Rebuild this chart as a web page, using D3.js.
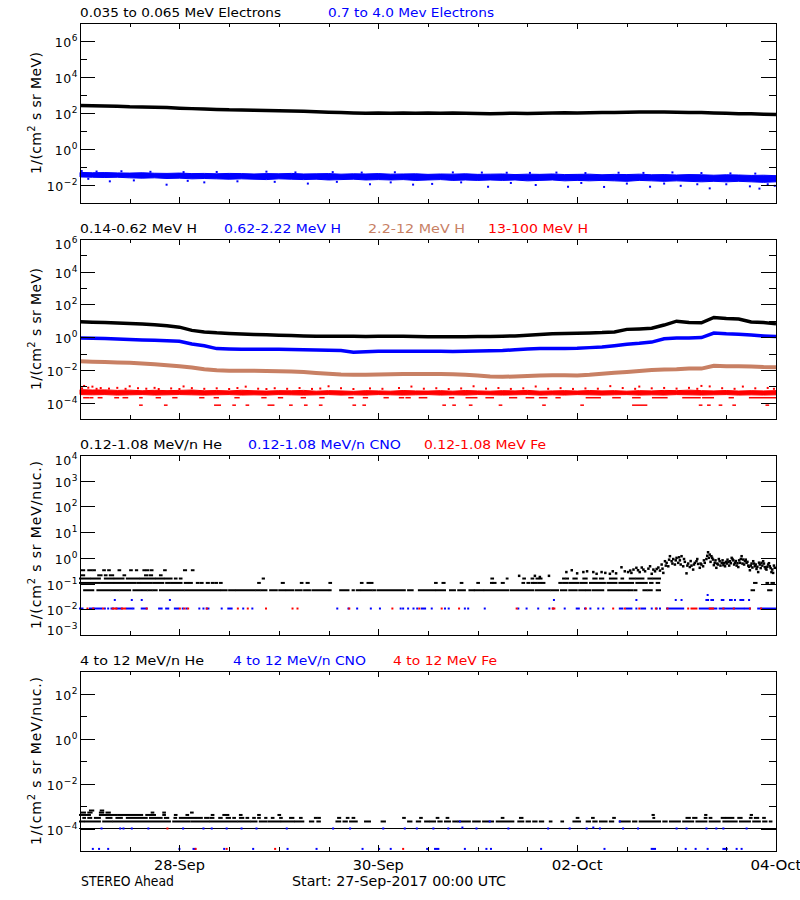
<!DOCTYPE html>
<html><head><meta charset="utf-8">
<script src="https://cdn.jsdelivr.net/npm/d3@7"></script>
<style>body{margin:0;background:#fff}svg{display:block}text{font-family:"DejaVu Sans",sans-serif}</style>
</head><body><svg id="c" width="800" height="900"></svg>
<script>
// ---------------- DATA ----------------
// time grid: hours since 27-Sep-2017 00:00 UTC, 3-hour samples
const sampleHours = d3.range(0, 169, 3);
const xTickHours = [12,24,36,48,60,72,84,96,108,120,132,144,156];
const xLabelHours = [24,72,120,168];
const xLabels = ["28-Sep","30-Sep","02-Oct","04-Oct"];

const titles1 = ["0.035 to 0.065 MeV Electrons","0.7 to 4.0 Mev Electrons"];
const titles2 = ["0.14-0.62 MeV H","0.62-2.22 MeV H","2.2-12 MeV H","13-100 MeV H"];
const titles3 = ["0.12-1.08 MeV/n He","0.12-1.08 MeV/n CNO","0.12-1.08 MeV Fe"];
const titles4 = ["4 to 12 MeV/n He","4 to 12 MeV/n CNO","4 to 12 MeV Fe"];

// Panel 1: electrons
const eLow = [257,250,245,235,220,215,210,200,185,175,165,158,150,148,142,138,135,130,125,118,110,105,100,98,100,98,100,97,100,98,100,97,95,92,95,97,95,97,100,102,100,103,105,107,110,112,115,112,110,107,105,100,97,92,90,85,82];
const eHighUpper = [0.05,0.048,0.049,0.047,0.046,0.048,0.045,0.044,0.046,0.043,0.044,0.042,0.044,0.043,0.041,0.043,0.042,0.044,0.041,0.042,0.043,0.04,0.042,0.041,0.043,0.04,0.041,0.042,0.039,0.041,0.04,0.042,0.039,0.04,0.041,0.038,0.04,0.039,0.041,0.038,0.039,0.04,0.037,0.039,0.038,0.04,0.037,0.038,0.036,0.038,0.037,0.035,0.037,0.036,0.034,0.035,0.033];
const eHighLower = [0.028,0.027,0.026,0.027,0.025,0.024,0.025,0.023,0.024,0.022,0.023,0.022,0.021,0.022,0.021,0.02,0.022,0.021,0.02,0.021,0.019,0.02,0.021,0.019,0.02,0.019,0.02,0.018,0.019,0.02,0.018,0.019,0.018,0.019,0.018,0.019,0.017,0.018,0.019,0.017,0.018,0.017,0.018,0.017,0.016,0.018,0.017,0.016,0.017,0.016,0.015,0.016,0.015,0.016,0.015,0.014,0.015];
const eHighOutliers = [[0.4,0.06],[4,0.056],[10,0.058],[17,0.054],[25,0.052],[33,0.053],[45,0.055],[52,0.05],[61,0.052],[68,0.049],[76,0.051],[90,0.05],[97,0.049],[103,0.048],[108.6,0.047],[115,0.049],[122,0.046],[130,0.048],[136,0.047],[143,0.05],[150,0.046],[157,0.044],[163,0.043],[2,0.022],[7.2,0.016],[13,0.018],[20.9,0.0104],[26,0.017],[30,0.014],[38,0.016],[47,0.015],[55,0.012],[62,0.015],[70,0.011],[75,0.014],[80.4,0.0105],[85,0.0115],[92,0.014],[98.5,0.008],[104,0.013],[110,0.01],[117.8,0.008],[121,0.013],[126.5,0.0078],[132,0.012],[137.6,0.008],[141,0.012],[145,0.009],[149,0.011],[152,0.0065],[156,0.011],[161.7,0.0084],[164,0.0063],[166,0.011],[167.7,0.009]];

// Panel 2: protons
const h1 = [8.7,8.3,7.8,7.3,6.9,6.4,5.8,5.0,4.1,2.6,2.1,1.85,1.7,1.55,1.45,1.4,1.3,1.25,1.2,1.15,1.15,1.15,1.15,1.1,1.15,1.15,1.15,1.1,1.05,1.05,1.05,1.08,1.1,1.12,1.15,1.2,1.3,1.45,1.6,1.7,1.75,1.8,1.9,2.1,3.0,3.2,3.5,5.5,9.5,7.8,7.6,16,14,13,8.5,7.8,6.5];
const h2 = [0.9,0.87,0.82,0.77,0.72,0.68,0.64,0.6,0.57,0.38,0.3,0.2,0.19,0.185,0.18,0.18,0.18,0.175,0.17,0.165,0.16,0.155,0.12,0.13,0.14,0.14,0.14,0.14,0.14,0.14,0.135,0.14,0.145,0.15,0.155,0.17,0.19,0.2,0.2,0.2,0.21,0.23,0.25,0.3,0.37,0.42,0.5,0.8,0.9,0.88,0.95,1.8,1.6,1.5,1.35,1.2,1.1];
const h3 = [0.034,0.032,0.03,0.028,0.027,0.025,0.022,0.019,0.017,0.014,0.011,0.0095,0.009,0.009,0.0088,0.0085,0.0084,0.008,0.0075,0.0065,0.0058,0.0052,0.005,0.005,0.0052,0.0055,0.0056,0.0057,0.0057,0.0056,0.0055,0.005,0.0045,0.004,0.0038,0.004,0.0043,0.0046,0.0047,0.0047,0.0046,0.005,0.0058,0.0066,0.0075,0.0085,0.01,0.0106,0.011,0.012,0.012,0.018,0.017,0.017,0.016,0.015,0.0147];
const h4Upper = [6.2e-4,5.9e-4,6e-4,5.6e-4,5.8e-4,5.3e-4,5.7e-4,5.4e-4,5.6e-4,5.9e-4,5.3e-4,5.5e-4,5.2e-4,5.7e-4,5.3e-4,5.1e-4,5.4e-4,5.3e-4,5.6e-4,5e-4,5.4e-4,5.2e-4,4.9e-4,5.4e-4,5.2e-4,5e-4,5.5e-4,5.2e-4,5.1e-4,5.4e-4,5e-4,5.5e-4,5.2e-4,5e-4,5.4e-4,5.2e-4,5.6e-4,5e-4,5.2e-4,5.4e-4,5.1e-4,5.5e-4,5.2e-4,5.4e-4,5e-4,5.4e-4,5.2e-4,5.6e-4,5.4e-4,5.8e-4,5.4e-4,5.2e-4,5.5e-4,5.1e-4,5.4e-4,5.2e-4,5.4e-4];
const h4Lower = [3.1e-4,3e-4,3.1e-4,2.9e-4,3e-4,3.1e-4,2.9e-4,3e-4,3.1e-4,3e-4,2.9e-4,3e-4,3.1e-4,2.9e-4,3e-4,2.9e-4,3.1e-4,3e-4,2.9e-4,3e-4,3.1e-4,2.9e-4,3e-4,2.9e-4,3.1e-4,3e-4,2.9e-4,3e-4,3.1e-4,2.9e-4,3e-4,2.9e-4,3.1e-4,3e-4,2.9e-4,3e-4,3.1e-4,2.9e-4,3e-4,2.9e-4,3.1e-4,3e-4,2.9e-4,3e-4,3.1e-4,2.9e-4,3e-4,2.9e-4,3.1e-4,3e-4,2.9e-4,3e-4,3.1e-4,2.9e-4,3e-4,2.9e-4,3e-4];
const h4High = [[1,1.05e-3],[3,9.5e-4],[12,1e-3],[25,9.8e-4],[40,9.5e-4],[60,1e-3],[80,9.6e-4],[95,1e-3],[110,9.7e-4],[128,1.02e-3],[135,9.6e-4],[150,1.05e-3],[152,9.8e-4],[160,9.6e-4],
 [0.5,7.5e-4],[2,8.2e-4],[4,7e-4],[5,7.8e-4],[7,7.2e-4],[9,8e-4],[11,7e-4],[14,7.6e-4],[16,7.1e-4],[18,8e-4],[19,6.8e-4],[22,7.4e-4],[24,6.8e-4],[27,7.7e-4],[30,7e-4],[33,7.5e-4],[36,6.8e-4],[38,7.8e-4],[43,7.1e-4],[45,6.8e-4],[47,7.6e-4],[50,7e-4],[53,7.8e-4],[56,6.9e-4],[58,7.3e-4],[63,7.6e-4],[66,6.8e-4],[70,7.4e-4],[73,7e-4],[77,7.8e-4],[83,7.1e-4],[86,7.6e-4],[89,6.8e-4],[92,7.4e-4],[98,7.2e-4],[101,7.8e-4],[104,6.9e-4],[107,7.5e-4],[113,7e-4],[116,7.7e-4],[119,6.9e-4],[122,7.4e-4],[125,7.1e-4],[131,7.8e-4],[134,7e-4],[138,7.5e-4],[141,7.9e-4],[144,7.2e-4],[147,8e-4],[149,7e-4],[155,7.6e-4],[158,7e-4],[163,7.5e-4],[166,7.9e-4],[167.5,7e-4]];
const h4Levels = [2e-4, 7e-5];
const h4Runs = [
 [[1,2],[2.5,3],[4.5,5.2],[8.5,9.2],[10.5,11.4],[14.5,14.9],[18.5,19.3],[22.5,23.3],[29,29.8],[32.5,33.3],[37.5,38.3],[44,44.8],[48,48.8],[53.5,54.3],[58,58.8],[65,65.8],[68.5,69.3],[73.5,74.3],[77.2,78],[78.8,79.6],[82,83.6],[89.3,90.1],[93.3,95.7],[98.1,99.7],[103.8,105.3],[107.8,109.4],[111,112.6],[115,115.8],[122.3,125.5],[128.7,130.3],[133.5,135.1],[138.3,141.6],[145.6,149.6],[150.4,152.8],[156.8,157.6],[161.7,168]],
 [[14.5,14.9],[20.5,20.9],[32.6,33.8],[37,37.4],[40.2,40.6],[45.5,46.7],[50.7,51.1],[54.3,54.7],[57.9,58.3],[66,66.4],[68.4,68.8],[87.7,88.1],[90.1,90.5],[94.1,94.5],[101.3,101.7],[111.8,112.2],[121,121.4],[133.5,136.7],[149.6,150],[151.6,152],[154.4,154.8],[157.7,158.1],[165.7,166.1]]
];

// Panel 3: 0.12-1.08 MeV/n ions
const he3Levels = [0.055, 0.106, 0.157, 0.21, 0.33];
const he3Runs = [
 [[1,3.2],[4.2,7.2],[7.6,9.3],[9.7,12.1],[12.9,16.1],[16.5,17.3],[17.7,18.5],[19.3,25],[25.4,33.8],[34.2,35.4],[36,37.4],[37.8,42.2],[42.6,43.4],[43.8,45],[45.9,47.5],[48.1,49.5],[49.9,51.5],[52.1,53.5],[54.1,55.5],[56.1,59.9],[60.3,60.5],[62.8,64.8],[65.8,66.1],[66.8,67.6],[68,70.4],[70.8,71.2],[71.8,78.4],[79.2,80.3],[81.8,85.7],[86.1,88.1],[89.3,90.5],[91.3,92.9],[94,95],[95.3,97.3],[97.7,103.4],[104,109.4],[110,113.4],[113.8,115.4],[116.1,117.4],[118.1,119.9],[120.5,121.9],[122.3,123.1],[123.7,126.3],[127.5,132.3],[132.7,133.4],[133.9,134.3],[136,136.8],[137.2,138],[139.2,140],[162.1,162.7],[166.1,166.9]],
 [[0,4.8],[5.2,8],[8.4,13.3],[13.8,14.5],[14.9,17.3],[17.7,20.1],[20.8,21.7],[22.1,24.5],[25.3,26.1],[26.5,27],[28.2,28.6],[29.1,29.6],[30.6,31.1],[31.8,32.3],[32.8,33.1],[33.8,34.2],[43,43.4],[48.7,49.2],[53.3,53.7],[54.7,55.2],[60.2,60.6],[67.8,68.2],[69.4,69.8],[70.2,70.6],[85.7,86.1],[87.5,88],[91.9,92.3],[95.9,96.3],[99.2,99.6],[99.7,100.3],[101.8,102.3],[106.8,107.2],[108,108.4],[109,109.4],[109.6,110.2],[110.6,111.3],[111.7,112.1],[115.7,116.1],[116.6,117.6],[118.1,120.3],[120.8,122.3],[123.1,126.7],[127.3,129.5],[130.2,133.5],[134.3,136],[136.4,136.8],[137.6,138.2],[139.2,139.8],[162.7,163.3],[165.7,166.1],[166.9,167.5]],
 [[0,2.4],[2.8,4.8],[6,8],[8.4,10.5],[11.3,14.1],[14.5,18.1],[18.5,20.1],[20.5,22.1],[22.9,23.3],[24.1,24.5],[44.1,44.4],[99.3,99.7],[103,103.2],[107,107.4],[109,109.4],[110.2,110.6],[111,111.4],[116.6,117],[117.4,117.8],[119.1,119.9],[121.5,122.3],[123.9,124.7],[125.5,126.3],[127.9,129.5],[130.7,131.1],[132.7,133.9],[134.3,136],[137.2,138],[138.4,140]],
 [[0.4,1],[4.4,5.2],[6,6.4],[7.2,8],[10.5,10.9],[15.7,16.3],[16.9,17.4],[19.3,19.7]],
 [[0.4,1],[2,2.8],[3.2,3.6],[5.6,6],[6.8,7.2],[9.3,9.7],[12.1,12.5],[13.5,13.8],[15.3,15.7],[16.1,16.5],[17.1,17.5],[20.3,20.7],[25.1,25.6],[27,27.4]]
];
const he3Cloud = [[118.7,0.33],[121.5,0.28],[123.9,0.28],[125.9,0.28],[127.9,0.24],[130.7,0.43],[132.3,0.28],[133.1,0.26],[134.3,0.41],[134.7,0.33],[135.1,0.28],[136,0.35],[137.6,0.47],[138,0.24],[138.4,0.35],[138.8,0.3],[139.2,0.37],[140,0.32],[140.4,0.55],[140.8,0.26],[141.2,0.74],[141.6,0.64],[142,0.47],[142.4,1.16],[142.8,0.74],[143.2,0.9],[143.6,0.55],[144,1.0],[144.4,0.64],[144.8,0.8],[145.2,1.16],[145.6,0.47],[146,0.7],[146.4,0.25],[146.8,0.6],[147.2,0.44],[147.6,0.5],[148,0.35],[148.4,0.64],[148.8,0.74],[149.2,0.58],[149.6,0.41],[150,0.55],[150.4,0.47],[150.8,0.64],[151.2,0.9],[151.6,1.65],[152,1.34],[152.4,1.16],[152.8,0.86],[153.2,0.64],[153.6,0.41],[154,0.55],[154.4,0.74],[154.9,0.64],[155.3,0.52],[155.7,0.47],[156.1,0.6],[156.5,0.68],[156.9,0.74],[157.3,1.0],[157.7,0.8],[158.1,0.64],[158.5,0.5],[158.9,0.44],[159.3,0.64],[159.7,1.16],[160.1,0.86],[160.5,0.74],[160.9,0.64],[161.3,0.5],[161.7,0.33],[162.1,0.6],[162.5,0.74],[162.9,0.47],[163.3,0.37],[163.7,0.28],[164.1,0.55],[164.5,0.64],[164.9,0.74],[165.3,0.44],[165.7,0.35],[166.1,0.55],[166.5,0.47],[166.9,0.28],[167.3,0.26],[167.7,0.41],
 [141.4,0.5],[142.2,0.85],[143,0.6],[143.8,0.8],[144.6,1.05],[145,0.55],[145.8,0.9],[146.6,0.5],[147.4,0.75],[148.2,0.55],[149,0.9],[149.8,0.6],[150.6,0.8],[151.4,1.2],[151.8,1.0],[152.2,0.7],[152.6,1.0],[153,0.52],[153.4,0.8],[153.8,0.6],[154.2,0.9],[154.6,0.5],[155.1,0.8],[155.5,0.62],[155.9,0.7],[156.3,0.85],[156.7,0.5],[157.1,0.62],[157.5,0.9],[157.9,0.55],[158.3,0.75],[158.7,0.62],[159.1,0.8],[159.5,0.9],[159.9,0.6],[160.3,0.55],[160.7,0.85],[161.1,0.7],[161.5,0.45],[161.9,0.5],[162.3,0.42],[162.7,0.6],[163.1,0.55],[163.5,0.45],[163.9,0.65],[164.3,0.4],[164.7,0.5],[165.1,0.6],[165.5,0.38],[165.9,0.45],[166.3,0.62],[166.7,0.4],[167.1,0.35],[167.5,0.5],[139.6,0.42],[140.6,0.38],[137.2,0.38],[136.4,0.3],[135.6,0.42],[133.6,0.35],[132.8,0.32],[131.5,0.3],[129.4,0.25],[128.6,0.3],[126.8,0.26],[124.7,0.24],[122.4,0.3],[120,0.25],[117.4,0.28],[113.2,0.2],[111,0.18],[109.8,0.2],[106,0.2]];
const cno3Levels = [0.0107, 0.023, 0.036];
const cno3Runs = [
 [[0,0.6],[2.4,3.2],[3.6,5.2],[6,6],[6.8,6.8],[7.6,8],[8.8,10.1],[11.3,12.5],[12.9,12.9],[14.9,16.1],[19.1,19.7],[20.8,21.3],[22.9,23.7],[24.8,24.8],[25.7,25.7],[28.8,28.8],[29.8,29.8],[30.6,31],[34.2,34.2],[35.8,36.6],[39.4,39.4],[41.6,41.6],[62.1,62.1],[64.8,64.8],[66.9,66.9],[70.2,70.2],[72.4,72.4],[77.4,77.4],[78,78],[79.2,79.2],[80.5,80.5],[81.4,81.4],[82.5,83.3],[84.9,84.9],[88.1,88.1],[89,89],[92.9,92.9],[93.7,93.7],[97.7,97.7],[105.8,105.8],[107.8,107.8],[110.6,110.6],[113.3,113.3],[114.2,114.2],[117,117],[119.9,120.4],[121.9,121.9],[123.2,123.2],[125.1,125.1],[126.3,126.3],[130.3,130.9],[131.9,133.1],[134.3,134.3],[135.5,136.4],[138,138],[139.2,139.2],[140,140],[141.7,145.6],[149.6,153.6],[154.4,155.3],[155.7,157.7],[158.1,160.1],[160.5,161.7],[163.7,168]],
 [[8.4,8.4],[12.5,12.5],[14.9,14.9],[21.7,21.7],[114.4,114.4],[134.3,134.3],[143.8,143.8],[145.2,145.2],[151.2,151.6],[152.4,152.8],[154.9,155.3],[156.9,157.3],[158.1,158.1],[159.4,160.1],[161.5,161.5]],
 [[151.5,151.5]]
];
const fe3Levels = [0.0107];
const fe3Runs = [
 [[1.8,1.8],[3.2,3.2],[5.6,5.6],[7.9,8.8],[10.1,10.9],[16.1,16.1],[24.1,24.1],[25.2,25.2],[26.1,26.1],[30.6,30.6],[38.1,38.1],[40.5,40.5],[44.9,44.9],[51.3,51.3],[52.5,52.5],[65,65],[75.4,75.4],[81.9,81.9],[87.3,87.3],[91.5,91.5],[105.4,105.4],[114.1,114.5],[122.1,122.1],[128.7,128.7],[131.5,131.5],[135,135],[139,139],[141.8,141.8],[146.8,146.8],[147.6,148.8],[152,152.8],[155.3,155.3],[157.8,157.8],[161.7,161.7],[164.4,164.4]]
];

// Panel 4: 4-12 MeV/n ions
const he4Floor = [[0,168,1e-4]];
const he4Levels = [2.05e-4, 2.96e-4, 4e-4, 5.1e-4, 6.3e-4];
const he4Runs = [
 [[0,0.8],[1.2,4.8],[5.6,7.6],[8,21.7],[22.5,26.5],[27,31],[31.4,37.8],[38.2,41],[41.4,42.6],[43.4,45],[45.5,48.3],[48.7,51.5],[51.9,53.9],[55.5,56.3],[57.3,57.9],[61.9,62.8],[63.6,64.4],[65.2,66.8],[68.8,70],[72.8,73.6],[79.2,80],[81.3,82.1],[83.3,84.1],[84.5,85.7],[86.5,87.3],[88.1,89.3],[90.1,90.9],[91.3,94.1],[94.9,96.5],[97.3,99.7],[100.6,104.6],[105.8,107],[107.8,108.6],[109.4,110.2],[111,111.8],[113.4,113.8],[116.2,116.6],[119.1,120.7],[122.3,123.1],[123.9,124.7],[125.5,127.1],[127.9,128.7],[130.3,132.7],[133.5,134.3],[135.1,140],[140.8,141.6],[142.4,144.8],[145.6,148],[148.8,151.2],[152,154.4],[155.3,158.5],[159.3,161.7],[162.5,164.1],[164.9,165.7],[166.5,166.9]],
 [[0.8,1.2],[2,2.7],[3.6,4.8],[6.4,7.6],[8.8,10.1],[11.3,16.1],[16.9,19.7],[20.5,21.3],[22.8,23.2],[24.1,26.1],[26.5,27.8],[28.2,29.4],[30.2,31],[31.5,32.2],[33.6,34.2],[35.4,36.2],[37,37.4],[38.6,39.4],[40.2,40.6],[41.8,42.2],[43,43.4],[44.7,45],[46.3,46.7],[48.3,48.7],[50.7,51.5],[53.1,53.5],[56.7,57.1],[57.5,57.9],[62.3,62.8],[64.4,64.8],[65.8,66.2],[78,78.4],[82.1,82.5],[86.1,86.5],[88.5,88.9],[101.8,102.2],[106.2,106.8],[119.9,120.3],[123.6,124],[128.7,129.1],[138.4,138.6],[146.4,147.2],[148,148.8],[150.8,151.2],[152,152.4],[154.9,155.7],[156.1,157.7],[158.9,159.7],[161.7,162.1],[162.9,163.7],[164.9,165.3]],
 [[0,2.4],[4.8,8.8],[9.2,15],[16,18.1],[20.1,20.5],[22.9,23.3],[25.7,26.1],[31.8,32.2],[34.6,35.8],[38.6,39],[43,43.4],[47.9,48.3],[138.2,138.5],[150.9,151.2],[161.9,162.2]],
 [[0.4,1.2],[2,2.8],[4.8,5.6],[6.4,7.2],[17.3,17.7],[20.1,20.5],[26.8,27.2]],
 [[2.4,3.2],[5,5.6]]
];
const cno4Levels = [1.24e-5, 1e-4, 1.1e-4, 2.05e-4];
const cno4Runs = [
 [[3.1,3.1],[4.6,4.6],[6.8,6.8],[24,24],[27.4,27.8],[34.8,34.8],[41.8,41.8],[50.1,50.1],[57.1,57.1],[68.2,68.2],[72.2,72.2],[75,75],[83.8,83.8],[85.7,86.5],[92.9,92.9],[98.1,98.1],[99.2,99.2],[111.3,111.3],[126.6,126.6],[138,138.8],[146.2,146.2],[148.6,148.6],[151.5,151.5],[155.3,156.1],[158.5,158.5],[159.7,159.7]],
 [[5.2,5.2],[9.7,9.7],[10.5,10.5],[12.5,12.5],[16.5,16.5],[24.9,24.9],[29.8,29.8],[31.8,31.8],[35.4,35.4],[39,39],[42.6,42.6],[49.9,49.9],[61.1,61.1],[65.2,65.2],[73.2,73.2],[78.4,78.4],[81.3,81.3],[85.3,85.3],[88.9,88.9],[95.7,95.7],[103.4,103.4],[113,113],[118.2,118.2],[122.3,122.3],[125.5,125.5],[131.1,131.1],[134.7,134.7],[144,144],[146.4,146.4],[151.2,151.2],[153.6,153.6],[155.3,155.3],[160.9,160.9]],
 [[92.3,92.3],[123.9,123.9]],
 [[91.7,91.7],[98.9,98.9],[130.3,130.3]]
];
const fe4Levels = [1.24e-5, 1e-4];
const fe4Runs = [
 [[27.9,27.9],[35.4,35.4],[47.1,47.1],[78,78]],
 [[21.1,21.1]]
];

// ---------------- DRAWING ----------------
const BLACK = "#000000", BLUE = "#0000ff", BROWN = "rgb(200,128,100)", RED = "#ff0000";
const svg = d3.select("#c");
const X0 = 80, X1 = 776, PH = 180;
const xs = d3.scaleLinear().domain([0, 168]).range([X0, X1]);

function superText(sel, base, exp, baseSize, expSize, rise) {
  sel.append("tspan").attr("font-size", baseSize).text(base);
  sel.append("tspan").attr("font-size", expSize).attr("dy", -rise).text(exp);
}

function makePanel(top, domain, labelExps, minorExps, yTitleTail, yTitleLen) {
  const bottom = top + PH;
  const ys = d3.scaleLog().domain(domain).range([bottom, top]);
  const g = svg.append("g");
  const frame = svg.append("g");
  frame.append("rect").attr("x", X0 + 0.5).attr("y", top + 0.5)
    .attr("width", X1 - X0).attr("height", PH)
    .attr("fill", "none").attr("stroke", BLACK).attr("stroke-width", 1);
  const tick = (x1, y1, x2, y2) => frame.append("line").attr("x1", x1).attr("y1", y1)
    .attr("x2", x2).attr("y2", y2).attr("stroke", BLACK).attr("stroke-width", 1);
  labelExps.forEach(e => {
    const y = Math.round(ys(Math.pow(10, e))) + 0.5;
    tick(X0, y, X0 + 15, y); tick(X1, y, X1 - 15, y);
    let by = y + 5;
    by = Math.max(by, top + 10); by = Math.min(by, bottom);
    const t = frame.append("text").attr("x", 78).attr("y", by)
      .attr("text-anchor", "end").attr("letter-spacing", 0.5);
    superText(t, "10", e < 0 ? "\u2212" + (-e) : String(e), 12.5, 9, 6);
  });
  minorExps.forEach(e => {
    const y = Math.round(ys(Math.pow(10, e))) + 0.5;
    tick(X0, y, X0 + 7, y); tick(X1, y, X1 - 7, y);
  });
  xTickHours.forEach(h => {
    const x = Math.round(xs(h)) + 0.5;
    const len = xLabelHours.includes(h) ? 6 : 4;
    tick(x, top, x, top + len); tick(x, bottom, x, bottom - len);
  });
  const yt = frame.append("text")
    .attr("transform", `translate(41,${(top + bottom) / 2}) rotate(-90)`)
    .attr("text-anchor", "middle").attr("font-size", 14)
    .attr("textLength", yTitleLen).attr("lengthAdjust", "spacing");
  yt.append("tspan").text("1/(cm");
  yt.append("tspan").attr("font-size", 10).attr("dy", -6).text("2");
  yt.append("tspan").attr("dy", 6).text(" s sr " + yTitleTail);
  return { g, ys, top, bottom };
}

function titles(p, texts, colors, xsPos, widths) {
  texts.forEach((t, i) => {
    svg.append("text").attr("x", xsPos[i]).attr("y", p.top - 6)
      .attr("font-size", 12.5).attr("fill", colors[i])
      .attr("textLength", widths[i]).attr("lengthAdjust", "spacingAndGlyphs").text(t);
  });
}

function drawLine(p, vals, color, w) {
  const data = sampleHours.map((h, i) => [h, vals[i]]);
  p.g.append("path").datum(data)
    .attr("d", d3.line().x(d => xs(d[0])).y(d => p.ys(d[1])))
    .attr("fill", "none").attr("stroke", color).attr("stroke-width", w);
}
function drawBand(p, lo, hi, color) {
  const data = sampleHours.map((h, i) => [h, lo[i], hi[i]]);
  p.g.append("path").datum(data)
    .attr("d", d3.area().x(d => xs(d[0])).y0(d => p.ys(d[1])).y1(d => p.ys(d[2])))
    .attr("fill", color).attr("stroke", color).attr("stroke-width", 1);
}
function drawPoints(p, pts, color, w, hgt) {
  p.g.selectAll(null).data(pts).join("rect")
    .attr("x", d => xs(d[0]) - w / 2).attr("y", d => p.ys(d[1]) - hgt / 2)
    .attr("width", w).attr("height", hgt).attr("fill", color);
}
function drawRuns(p, levels, runs, color, hgt) {
  levels.forEach((lv, k) => {
    p.g.selectAll(null).data(runs[k]).join("rect")
      .attr("x", d => xs(d[0]) - 1)
      .attr("width", d => Math.max(2, xs(d[1]) - xs(d[0]) + 2))
      .attr("y", d => p.ys(lv) - hgt / 2).attr("height", hgt).attr("fill", color);
  });
}

// Panel 1
const p1 = makePanel(23, [1e-3, 1e7], [6, 4, 2, 0, -2], [5, 3, 1, -1], "MeV)", 122);
titles(p1, titles1, [BLACK, BLUE], [80, 328], [201, 166]);
drawLine(p1, eLow, BLACK, 3.5);
drawBand(p1, eHighLower, eHighUpper, BLUE);
drawPoints(p1, eHighOutliers, BLUE, 2, 2);

// Panel 2
const p2 = makePanel(239, [1e-5, 1e6], [6, 4, 2, 0, -2, -4], [5, 3, 1, -1, -3], "MeV)", 122);
titles(p2, titles2, [BLACK, BLUE, BROWN, RED], [80, 224, 368, 488], [117, 117, 97, 100]);
drawLine(p2, h1, BLACK, 3.5);
drawLine(p2, h2, BLUE, 3.5);
drawLine(p2, h3, BROWN, 4);
drawBand(p2, h4Lower, h4Upper, RED);
drawPoints(p2, h4High, RED, 2, 2);
drawRuns(p2, h4Levels, h4Runs, RED, 1.5);

// Panel 3
const p3 = makePanel(455, [1e-3, 1e4], [4, 3, 2, 1, 0, -1, -2, -3], [], "MeV/nuc.)", 168);
titles(p3, titles3, [BLACK, BLUE, RED], [80, 248, 424], [142, 153, 122]);
drawRuns(p3, he3Levels, he3Runs, BLACK, 2);
drawPoints(p3, he3Cloud, BLACK, 2.5, 2.5);
drawRuns(p3, cno3Levels, cno3Runs, BLUE, 2);
drawRuns(p3, fe3Levels, fe3Runs, RED, 2);

// Panel 4
const p4 = makePanel(671, [1e-5, 1e3], [2, 0, -2, -4], [1, -1, -3], "MeV/nuc.)", 168);
titles(p4, titles4, [BLACK, BLUE, RED], [80, 233, 393], [124, 133, 104]);
drawRuns(p4, [1e-4], [he4Floor], BLACK, 1);
drawRuns(p4, he4Levels, he4Runs, BLACK, 2);
drawRuns(p4, cno4Levels, cno4Runs, BLUE, 2);
drawRuns(p4, fe4Levels, fe4Runs, RED, 2);

// bottom axis labels
xLabelHours.forEach((h, i) => {
  svg.append("text").attr("x", xs(h)).attr("y", 870).attr("text-anchor", "middle")
    .attr("font-size", 14).attr("textLength", 51).attr("lengthAdjust", "spacingAndGlyphs")
    .text(xLabels[i]);
});
svg.append("text").attr("x", 81).attr("y", 886).attr("font-size", 14)
  .attr("textLength", 93).attr("lengthAdjust", "spacingAndGlyphs").text("STEREO Ahead");
svg.append("text").attr("x", 292).attr("y", 886).attr("font-size", 14)
  .attr("textLength", 214).attr("lengthAdjust", "spacingAndGlyphs").text("Start: 27-Sep-2017 00:00 UTC");
</script></body></html>
